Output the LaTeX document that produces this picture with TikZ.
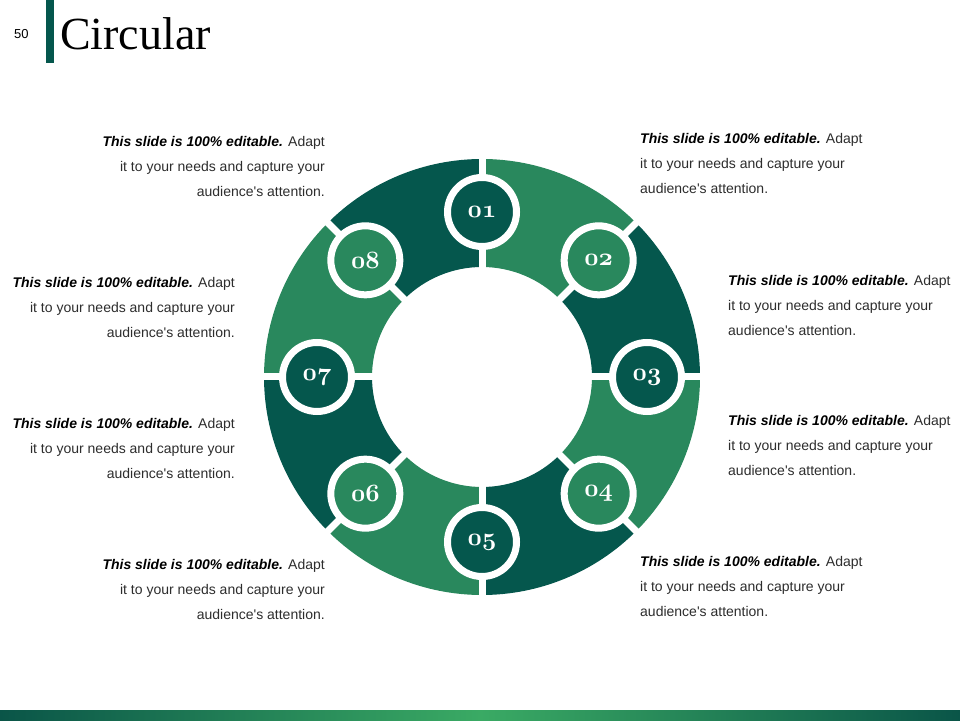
\documentclass[tikz,border=0pt]{standalone}
\usepackage{fontspec}
\newfontfamily\arial{Liberation Sans}
\newfontfamily\titlefont{Liberation Serif}
\definecolor{dk}{RGB}{5,87,77}
\definecolor{lt}{RGB}{41,136,93}
\definecolor{barend}{RGB}{10,85,72}
\definecolor{barmid}{RGB}{58,170,100}
\definecolor{txt}{RGB}{45,45,45}
\newcommand{\blurb}{\textcolor{black}{\bfseries\itshape This slide is 100\% editable.} Adapt\\it to your needs and capture your\\audience\textquotesingle s attention.}
\newcommand{\osnum}[1]{{\usefont{OML}{cmm}{b}{it}#1}}
\tikzset{
  numc/.style={circle, minimum size=69pt, inner sep=0pt, draw=white, line width=7pt, text=white, font=\fontsize{23}{23}\selectfont},
  blurbl/.style={inner sep=0pt, align=left, anchor=north west, text=txt, font=\arial\fontsize{14}{25}\selectfont},
  blurbr/.style={inner sep=0pt, align=right, anchor=north east, text=txt, font=\arial\fontsize{14}{25}\selectfont},
  gapline/.style={white, line width=7pt}
}
\begin{document}
\begin{tikzpicture}[x=1pt,y=1pt]
\useasboundingbox (0,0) rectangle (960,720);
\fill[white] (0,0) rectangle (960,720);
% title
\fill[dk] (46,657) rectangle (54,720);
\node[anchor=base west, inner sep=0pt, font=\titlefont\fontsize{46}{46}\selectfont] (title) at (60,670) {Circular};
\node[anchor=base west, inner sep=0pt, font=\arial\fontsize{13}{13}\selectfont] (pnum) at (14,681) {50};
% bottom bar
\shade[left color=barend, right color=barmid] (0,0) rectangle (480,10);
\shade[left color=barmid, right color=barend] (480,0) rectangle (960,10);
% ring
\coordinate (c) at (482,343);
\begin{scope}[shift={(482,343)}]
\foreach \a/\col in {45/lt, 0/dk, -45/lt, -90/dk, -135/lt, -180/dk, 135/lt, 90/dk}{
  \fill[\col] (\a:218) arc[start angle=\a, end angle={\a+45}, radius=218] -- ({\a+45}:110) arc[start angle={\a+45}, end angle=\a, radius=110] -- cycle;
}
\foreach \a in {0,45,...,315}{
  \draw[gapline] (\a:105) -- (\a:222);
}
\foreach \i/\a/\col in {01/90/dk, 02/45/lt, 03/0/dk, 04/-45/lt, 05/-90/dk, 06/-135/lt, 07/180/dk, 08/135/lt}{
  \node[numc, fill=\col] (n\i) at (\a:165) {\osnum{\i}};
}
\end{scope}
% text blocks
\node[blurbr] (t1) at (325,584) {\blurb};
\node[blurbl] (t2) at (640,587) {\blurb};
\node[blurbl] (t3) at (728,445) {\blurb};
\node[blurbl] (t4) at (728,305) {\blurb};
\node[blurbl] (t5) at (640,164) {\blurb};
\node[blurbr] (t6) at (325,161) {\blurb};
\node[blurbr] (t7) at (235,443) {\blurb};
\node[blurbr] (t8) at (235,302) {\blurb};
\end{tikzpicture}
\end{document}
